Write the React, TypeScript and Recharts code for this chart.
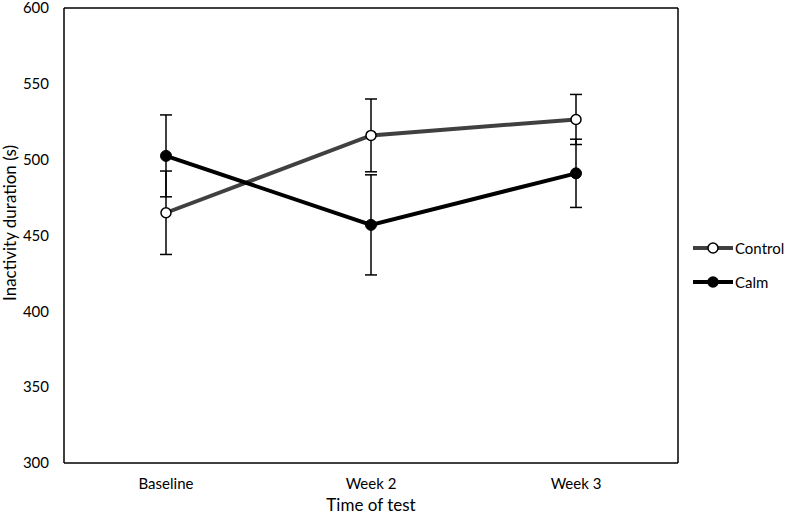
import { CartesianGrid, ErrorBar, Label, Line, LineChart, XAxis, YAxis } from "recharts";

const categories = ["Baseline", "Week 2", "Week 3"];
const controlMean = [465, 516, 526.5];
const controlErr = [27.5, 24, 16.5];
const calmMean = [502.5, 457, 491];
const calmErr = [27, 33, 22.5];
const yTicks = [300, 350, 400, 450, 500, 550, 600];
const seriesNames = ["Control", "Calm"];

const FONT = "Lato, 'Open Sans', sans-serif";

const data = categories.map((time, i) => ({
  time,
  control: controlMean[i],
  controlErr: controlErr[i],
  calm: calmMean[i],
  calmErr: calmErr[i],
}));

// top and right edges of the plot frame (left/bottom come from the axes)
const topEdge = ({ offset }: any) => [offset.top];
const rightEdge = ({ offset }: any) => [offset.left + offset.width];

export default function App() {
  return (
    <div style={{ position: "fixed", left: 0, top: 0, width: 785, height: 517, background: "#fff", fontFamily: FONT }}>
      <LineChart width={785} height={517} data={data} margin={{ top: 8, right: 107, bottom: 0, left: 0 }}>
        <CartesianGrid
          stroke="#000"
          strokeWidth={1.5}
          horizontalCoordinatesGenerator={topEdge}
          verticalCoordinatesGenerator={rightEdge}
        />
        <XAxis
          dataKey="time"
          height={54}
          padding={{ left: 102, right: 102 }}
          axisLine={{ stroke: "#000", strokeWidth: 1.5 }}
          tickLine={false}
          tickSize={0}
          tickMargin={15}
          tick={{ fill: "#000", fontSize: 15, fontFamily: FONT }}
        >
          <Label
            content={() => (
              <text x={371} y={511} textAnchor="middle" fontSize={17} fontFamily={FONT} fill="#000">
                Time of test
              </text>
            )}
          />
        </XAxis>
        <YAxis
          width={64}
          domain={[300, 600]}
          ticks={yTicks}
          interval={0}
          axisLine={{ stroke: "#000", strokeWidth: 1.5 }}
          tickLine={false}
          tickSize={0}
          tickMargin={15}
          tick={{ fill: "#000", fontSize: 15, fontFamily: FONT }}
        >
          <Label
            content={() => (
              <text
                x={16}
                y={223}
                transform="rotate(-90 16 223)"
                textAnchor="middle"
                fontSize={17}
                fontFamily={FONT}
                fill="#000"
              >
                Inactivity duration (s)
              </text>
            )}
          />
        </YAxis>
        <Line
          dataKey="control"
          stroke="#404040"
          strokeWidth={4}
          dot={{ r: 5, fill: "#fff", stroke: "#000", strokeWidth: 1.5 }}
          isAnimationActive={false}
        >
          <ErrorBar dataKey="controlErr" width={6} stroke="#000" strokeWidth={1.5} isAnimationActive={false} />
        </Line>
        <Line
          dataKey="calm"
          stroke="#000"
          strokeWidth={4}
          dot={{ r: 5.5, fill: "#000", stroke: "#000", strokeWidth: 1 }}
          isAnimationActive={false}
        >
          <ErrorBar dataKey="calmErr" width={6} stroke="#000" strokeWidth={1.5} isAnimationActive={false} />
        </Line>
      </LineChart>
      <div style={{ position: "absolute", left: 692, top: 238 }}>
        {seriesNames.map((name, i) => (
          <div key={name} style={{ display: "flex", alignItems: "center", height: 20, marginBottom: 14 }}>
            <svg width={42} height={14}>
              <line x1={1} y1={7} x2={41} y2={7} stroke={i === 0 ? "#404040" : "#000"} strokeWidth={4} />
              <circle cx={21} cy={7} r={5} fill={i === 0 ? "#fff" : "#000"} stroke="#000" strokeWidth={1.5} />
            </svg>
            <span style={{ fontSize: 15, color: "#000", marginLeft: 1 }}>{name}</span>
          </div>
        ))}
      </div>
    </div>
  );
}
